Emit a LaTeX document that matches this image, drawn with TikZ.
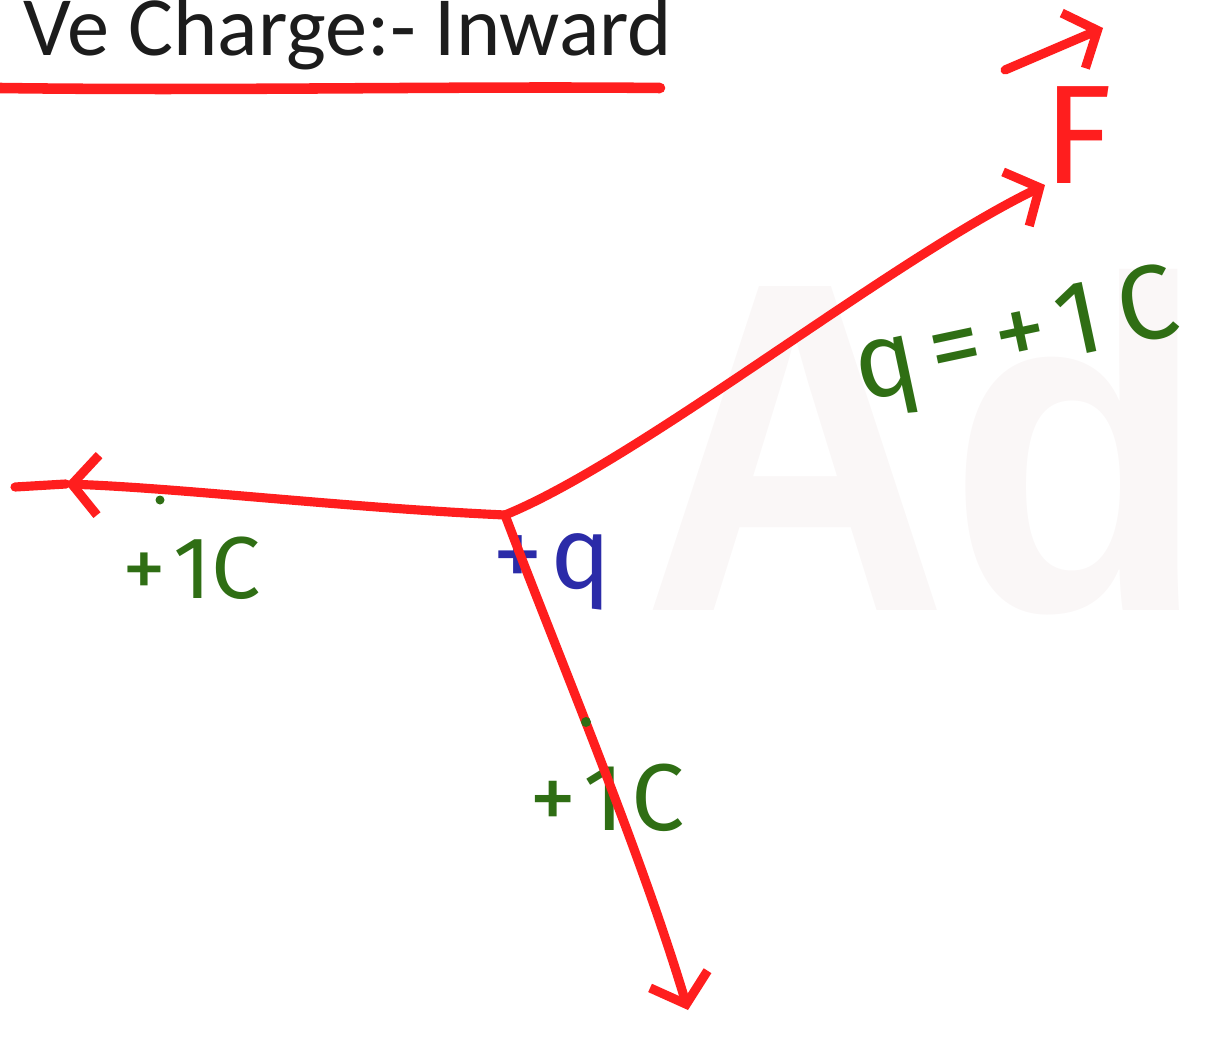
\documentclass[tikz,border=0pt]{standalone}
\usepackage{fontspec}
\setmainfont{Carlito}
\newfontfamily\handfont{Fira Sans}
\newfontfamily\markfont{Liberation Sans}
\usetikzlibrary{arrows.meta,positioning,calc}
\definecolor{inkred}{HTML}{FF1E1E}
\definecolor{inkgreen}{HTML}{2F6E14}
\definecolor{inkblue}{HTML}{2B2BA8}
\definecolor{markgrey}{HTML}{FAF7F7}
\definecolor{titleink}{HTML}{1C1C1C}

\begin{document}
\begin{tikzpicture}
  \tikzstyle{redline}=[inkred, line width=2.6pt, line cap=round]
  \tikzstyle{arrow}=[redline, -{Straight Barb[length=2.6mm, width=6mm]}]
  \tikzstyle{glabel}=[inkgreen, inner sep=0pt, font=\handfont\fontsize{25}{28}\selectfont]
  \tikzstyle{qlabel}=[inkblue, inner sep=0pt, font=\handfont\fontsize{29}{32}\selectfont]

  \clip (0,0) rectangle (12.13,-10.37);
  % faint watermark behind the sketch
  \node[anchor=base west, inner sep=0pt, xscale=0.9, transform shape, text=markgrey, font=\markfont\bfseries\fontsize{134}{140}\selectfont] (mark) at (6.42,-6.1) {Ad};

  \node[anchor=base west, inner sep=0pt, text=titleink, font=\fontsize{24}{28}\selectfont] (title) at (0.23,-0.56) {Ve Charge:- Inward};
  \draw[redline, line width=3pt] (0,-0.88) .. controls (2.2,-0.91) and (4.6,-0.86) .. (6.6,-0.88);

  \coordinate (q0) at (5.05,-5.15);
  \coordinate (upend) at (10.45,-1.85);
  \coordinate (lefttip) at (0.66,-4.84);
  \coordinate (leftend) at (0.15,-4.87);
  \coordinate (downend) at (6.88,-10.1);

  \node[qlabel] (charge) at (5.52,-5.72) {+\hspace{2pt}q};
  \node[inkred, inner sep=0pt, font=\handfont\fontsize{40}{44}\selectfont] (force) at (10.78,-1.35) {F};
  \node[glabel, rotate=12, font=\handfont\fontsize{30}{34}\selectfont] (qone) at (10.17,-3.42) {q\hspace{4pt}=\hspace{4pt}+\hspace{3pt}1\hspace{5pt}C};
  \node[glabel] (leftone) at (1.92,-5.68) {+\hspace{2pt}1C};
  \node[glabel, font=\handfont\fontsize{27}{30}\selectfont] (downone) at (6.07,-7.98) {+\hspace{2pt}1\hspace{2pt}C};

  \draw[arrow] (q0) .. controls (6.4,-4.6) and (8.9,-2.6) .. (upend);
  \draw[arrow] (q0) .. controls (3.5,-5.08) and (1.8,-4.88) .. (lefttip);
  \draw[redline] (lefttip) -- (leftend);
  \draw[arrow] (q0) .. controls (5.6,-6.6) and (6.4,-8.5) .. (downend);
  \draw[arrow] ($(force)+(-0.73,0.65)$) -- ($(force)+(0.25,1.07)$);

  \fill[inkgreen] (1.6,-5.0) circle (0.045);
  \fill[inkgreen] (5.86,-7.22) circle (0.05);
\end{tikzpicture}
\end{document}
